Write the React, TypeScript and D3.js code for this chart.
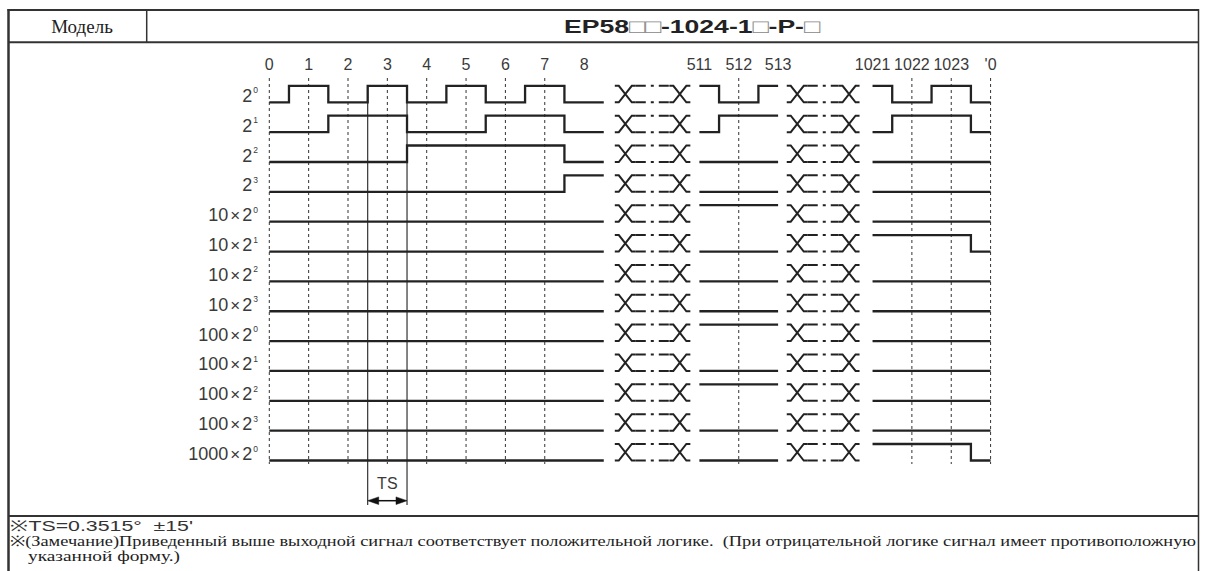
import React from "react";
import * as d3 from "d3";

// rows: label multiplier + 2^exp
const rowMultipliers = ["", "", "", "", "10", "10", "10", "10", "100", "100", "100", "100", "1000"];
const rowExponents = ["0", "1", "2", "3", "0", "1", "2", "3", "0", "1", "2", "3", "0"];

// first block: counts 0..8
const section1Counts = ["0", "1", "2", "3", "4", "5", "6", "7", "8"];
const section1Levels = [
  "010101010", "001100110", "000011110", "000000001",
  "000000000", "000000000", "000000000", "000000000",
  "000000000", "000000000", "000000000", "000000000", "000000000",
];
const section1Grid = [1, 1, 1, 1, 1, 1, 1, 1, 0];

// middle block: 511..513
const section2Counts = ["511", "512", "513"];
const section2Levels = [
  "101", "011", "000", "000",
  "111", "000", "000", "000",
  "111", "000", "111", "000", "000",
];
const section2Grid = [0, 1, 0];

// last block: 1021..'0
const section3Counts = ["1021", "1022", "1023", "'0"];
const section3Levels = [
  "1010", "0110", "0000", "0000",
  "0000", "1110", "0000", "0000",
  "0000", "0000", "0000", "0000", "1110",
];
const section3Grid = [0, 1, 1, 1];

// where each block sits on the count axis (in steps)
const sectionOffsets = [0, 10.93, 15.33];
const sectionEnds = [8.5, 12.93, 18.33];
const crossSpans = [[8.78, 10.7], [13.15, 15.0]];
const tsSlots = [2.5, 3.5];

const noteLine1 = "※TS=0.3515°  ±15'";
const noteLine2 = "※(Замечание)Приведенный выше выходной сигнал соответствует положительной логике.  (При отрицательной логике сигнал имеет противоположную";
const noteLine3 = "указанной форму.)";

const sections = [
  { counts: section1Counts, levels: section1Levels, grid: section1Grid, offset: sectionOffsets[0], end: sectionEnds[0] },
  { counts: section2Counts, levels: section2Levels, grid: section2Grid, offset: sectionOffsets[1], end: sectionEnds[1] },
  { counts: section3Counts, levels: section3Levels, grid: section3Grid, offset: sectionOffsets[2], end: sectionEnds[2] },
];

const W = 1205;
const H = 571;
const ink = "#222";
const sans = "'Liberation Sans', Arial, sans-serif";
const serif = "'Liberation Serif', 'Times New Roman', serif";

const App = () => {
  const x = d3.scaleLinear().domain([0, 1]).range([269.3, 308.65]);
  const y = d3.scalePoint<number>().domain(d3.range(rowExponents.length)).range([102.3, 460.5]);
  const hi = 16.5;
  const gridTop = 78;
  const gridBottom = 464;
  const line = d3.line().curve(d3.curveStepAfter);

  const signalPath = (sec: typeof sections[0], r: number) => {
    const low = y(r) as number;
    const pts: [number, number][] = sec.counts.map((_, i) => {
      const start = i === 0 ? sec.offset : sec.offset + i - 0.5;
      const lv = sec.levels[r][i] === "1";
      return [x(start), lv ? low - hi : low];
    });
    pts.push([x(sec.end), pts[pts.length - 1][1]]);
    return line(pts) || "";
  };

  const xw = 21;
  const tail = 4;

  return (
    <svg width={W} height={H} style={{ position: "absolute", left: 0, top: 0, background: "#fff" }}>
      {/* table frame */}
      <g stroke="#333" fill="none">
        <line x1={7.5} x2={1199} y1={10} y2={10} strokeWidth={2} />
        <line x1={8.5} x2={8.5} y1={9} y2={H} strokeWidth={2.5} />
        <line x1={1198.5} x2={1198.5} y1={9} y2={H} strokeWidth={1.5} />
        <line x1={8} x2={1199} y1={42.3} y2={42.3} strokeWidth={2} />
        <line x1={146.7} x2={146.7} y1={10} y2={42.3} strokeWidth={1.5} />
        <line x1={8} x2={1199} y1={516} y2={516} strokeWidth={2} />
      </g>
      <text x={82} y={33} textAnchor="middle" fontFamily={serif} fontSize={19} fill="#222">Модель</text>
      <text x={564} y={33} fontFamily={sans} fontSize={19} fontWeight="bold" fill="#222" textLength={256} lengthAdjust="spacingAndGlyphs">
        EP58<tspan fontWeight="normal" fill="#888">□□</tspan>-1024-1<tspan fontWeight="normal" fill="#888">□</tspan>-P-<tspan fontWeight="normal" fill="#888">□</tspan>
      </text>

      {/* column labels and dashed grid */}
      {sections.map((sec, s) => (
        <g key={"c" + s}>
          {sec.counts.map((c, i) => (
            <g key={c}>
              <text x={x(sec.offset + i)} y={70} textAnchor="middle" fontFamily={sans} fontSize={16} fill="#3a3a3a">{c}</text>
              {sec.grid[i] ? (
                <line x1={x(sec.offset + i)} x2={x(sec.offset + i)} y1={gridTop} y2={gridBottom}
                  stroke="#333" strokeWidth={1} strokeDasharray="3 3" />
              ) : null}
            </g>
          ))}
        </g>
      ))}

      {/* TS markers */}
      {tsSlots.map((t) => (
        <line key={"ts" + t} x1={x(t)} x2={x(t)} y1={y(0)! - hi} y2={505} stroke="#333" strokeWidth={1.2} />
      ))}
      <text x={(x(tsSlots[0]) + x(tsSlots[1])) / 2} y={489} textAnchor="middle" fontFamily={sans} fontSize={16} fill="#3a3a3a">TS</text>
      <g fill="#111" stroke="#111">
        <line x1={x(tsSlots[0]) + 6} x2={x(tsSlots[1]) - 6} y1={500.7} y2={500.7} strokeWidth={1.5} />
        <path d={`M${x(tsSlots[0])},500.7 l11,-3.8 v7.6 z`} strokeWidth={0.5} />
        <path d={`M${x(tsSlots[1])},500.7 l-11,-3.8 v7.6 z`} strokeWidth={0.5} />
      </g>

      {/* rows */}
      {rowExponents.map((e, r) => {
        const low = y(r) as number;
        const top = low - hi;
        const m = rowMultipliers[r];
        return (
          <g key={"r" + r}>
            <text x={258} y={low - 0.5} textAnchor="end" fontFamily={sans} fontSize={18} fill="#3a3a3a">
              {m ? <tspan>{m}</tspan> : null}
              {m ? <tspan dx={2} fontSize={17}>×</tspan> : null}
              <tspan dx={m ? 2 : 0}>2</tspan>
              <tspan fontSize={8.5} dx={1} dy={-8.5}>{e}</tspan>
            </text>
            {sections.map((sec, s) => (
              <path key={"s" + s} d={signalPath(sec, r)} fill="none" stroke={ink} strokeWidth={2.3} />
            ))}
            {crossSpans.map(([a, b], k) => {
              const xa = x(a);
              const xb = x(b);
              return (
                <g key={"x" + k} fill="none" stroke={ink} strokeWidth={2}>
                  <path d={`M${xa},${top}h${tail}L${xa + xw - tail},${low}h${tail}M${xa},${low}h${tail}L${xa + xw - tail},${top}h${tail}`} />
                  <path d={`M${xb - xw},${top}h${tail}L${xb - tail},${low}h${tail}M${xb - xw},${low}h${tail}L${xb - tail},${top}h${tail}`} />
                  <path d={`M${xa + xw},${top}H${xb - xw}M${xa + xw},${low}H${xb - xw}`} strokeDasharray="10 5 3 5 10" />
                </g>
              );
            })}
          </g>
        );
      })}

      {/* notes */}
      <text x={10} y={530.5} fontFamily={sans} fontSize={15} fill="#333" textLength={183} lengthAdjust="spacingAndGlyphs" style={{ whiteSpace: "pre" }}>{noteLine1}</text>
      <text x={10} y={546} fontFamily={serif} fontSize={14.5} fill="#222" textLength={1186} lengthAdjust="spacingAndGlyphs" style={{ whiteSpace: "pre" }}>{noteLine2}</text>
      <text x={28} y={560.5} fontFamily={serif} fontSize={14.5} fill="#222" textLength={152} lengthAdjust="spacingAndGlyphs">{noteLine3}</text>
    </svg>
  );
};

export default App;
